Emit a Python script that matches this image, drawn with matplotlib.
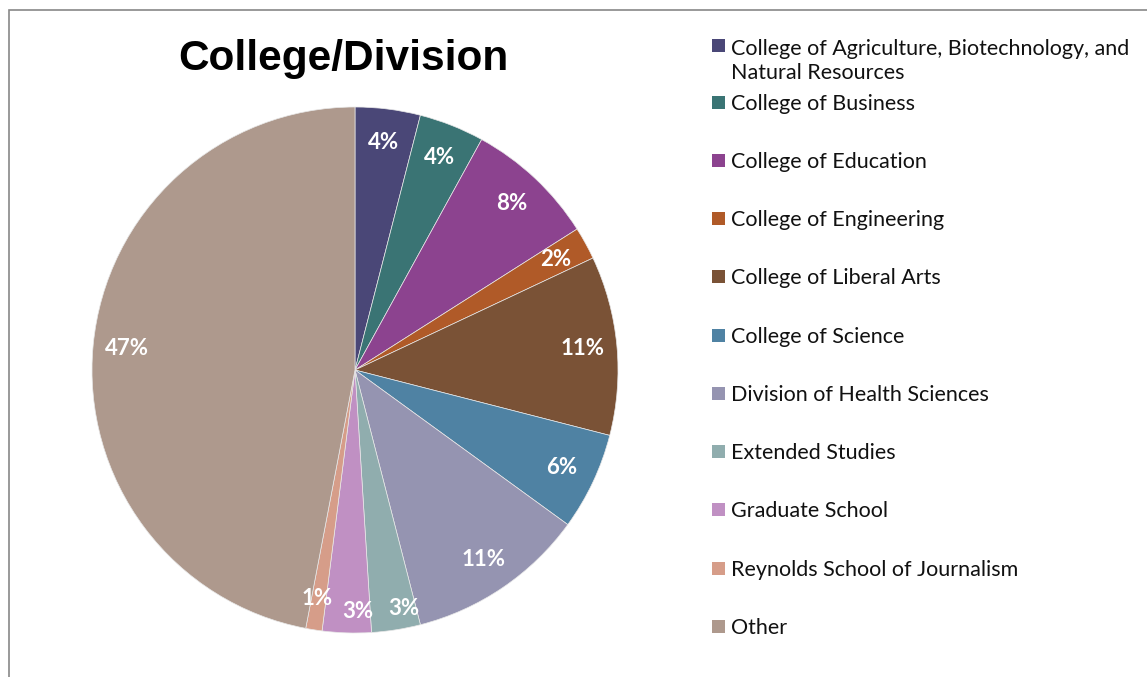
import numpy as np
import matplotlib.pyplot as plt
from matplotlib.patches import Rectangle

# enrolment share by college / division (percent)
categories = ['College of Agriculture, Biotechnology, and\nNatural Resources',
              'College of Business', 'College of Education', 'College of Engineering',
              'College of Liberal Arts', 'College of Science', 'Division of Health Sciences',
              'Extended Studies', 'Graduate School', 'Reynolds School of Journalism', 'Other']
shares = [4, 4, 8, 2, 11, 6, 11, 3, 3, 1, 47]
colors = ['#4A4777', '#3A7474', '#8C438F', '#B05A28', '#7A5236', '#4F82A3',
          '#9594B1', '#90ADAE', '#C090C3', '#D69D89', '#AE998D']

W, H = 1147, 677
fig = plt.figure(figsize=(W / 100, H / 100), dpi=100)

# outer chart frame (only top and left edges fall inside the canvas)
fig.patches.append(Rectangle((9 / W, -0.2), 1.2, 1.2 - 10 / H, transform=fig.transFigure,
                             fill=False, edgecolor='#888888', linewidth=1.2))

# pie centred at (355, 370) px with radius 263 px
cx, cy, r = 355, 370, 263
ax = fig.add_axes([(cx - r) / W, (H - cy - r) / H, 2 * r / W, 2 * r / H])
wedges, texts, autotexts = ax.pie(
    shares, colors=colors, startangle=90, counterclock=False,
    autopct='%d%%', pctdistance=0.87,
    wedgeprops=dict(edgecolor='#e8e8e8', linewidth=0.5),
    textprops=dict(color='white', fontsize=16, fontweight='bold', family='Lato'))
ax.set_xlim(-1, 1)
ax.set_ylim(-1, 1)
ax.set_aspect('equal')

# the thin slices at the bottom get their labels pushed out and spread apart
spread = [0.04, 0.04, 0.0]
for w, t, dx in zip(wedges[7:10], autotexts[7:10], spread):
    ang = np.deg2rad((w.theta1 + w.theta2) / 2)
    t.set_position((0.92 * np.cos(ang) + dx, 0.92 * np.sin(ang)))
autotexts[9].set_position((autotexts[9].get_position()[0], 0.88 * np.sin(np.deg2rad(
    (wedges[9].theta1 + wedges[9].theta2) / 2))))

fig.text(343 / W, 1 - 59 / H, 'College/Division', ha='center', va='center',
         fontsize=30.5, fontweight='bold', family='Liberation Sans')

# legend drawn by hand so that row spacing follows the wrapped first entry
rows_y = [45, 102, 160, 218, 276, 335, 393, 451, 509, 568, 626]
for i, (label, col, y) in enumerate(zip(categories, colors, rows_y)):
    fig.patches.append(Rectangle((712 / W, 1 - (y + 7) / H), 13 / W, 13 / H,
                                 transform=fig.transFigure, facecolor=col, edgecolor='none'))
    ty = (y + 73) / 2 if i == 0 else y
    fig.text(731 / W, 1 - (ty + 2) / H, label, ha='left', va='center', fontsize=15.5,
             family='Lato', color='#111111', linespacing=1.3)

fig.savefig('out.png', dpi=100)
